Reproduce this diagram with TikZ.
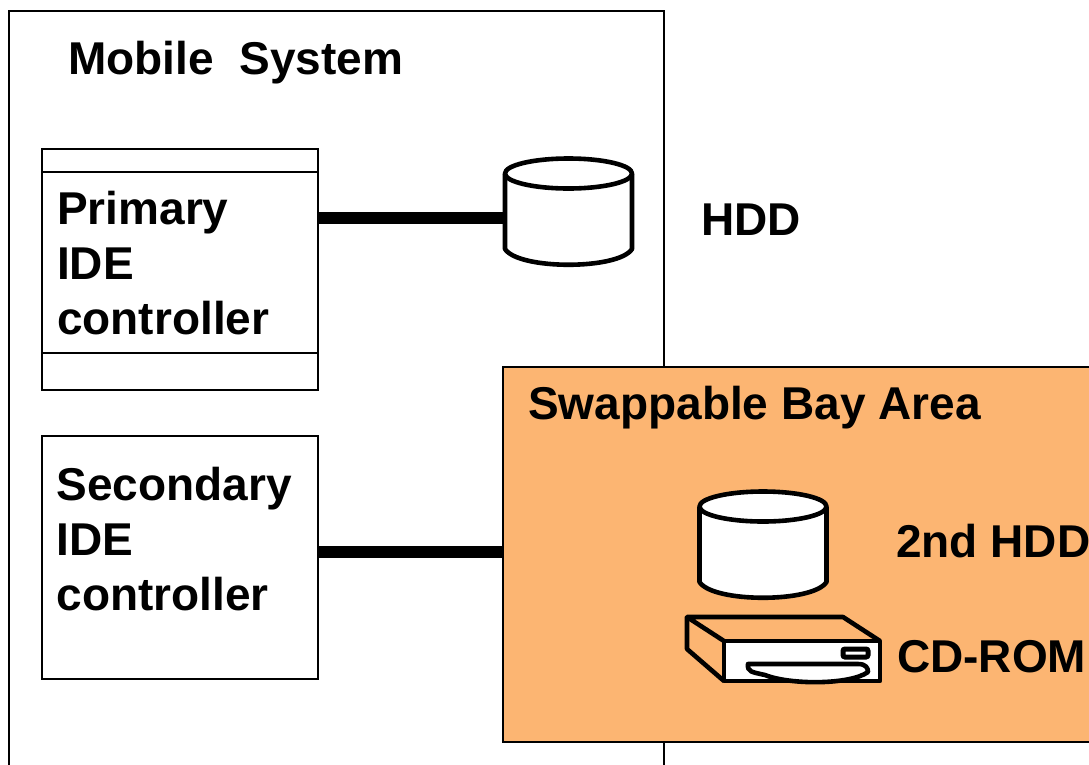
\documentclass[tikz,border=0pt]{standalone}
\usepackage{fontspec}
\setmainfont{Liberation Sans}
\usetikzlibrary{positioning}
\definecolor{bayorange}{RGB}{252,181,114}
\tikzset{
	label/.style={font=\fontsize{46}{55}\selectfont\bfseries, align=left, inner sep=0pt, anchor=north west},
	ctrl/.style={draw, line width=1.6pt, fill=white, minimum width=276pt, inner sep=0pt, outer sep=0pt},
	disk/.style={minimum width=127pt, minimum height=107pt, inner sep=0pt, outer sep=0pt},
	bus/.style={line width=12pt},
	thickline/.style={line width=4.6pt, line join=round}
}
\newcommand{\diskbody}[1]{
	\begin{scope}[shift={(#1.center)}]
		\draw[thickline, fill=white] (-63.5,-38.5) -- (-63.5,37) .. controls (-50,58) and (50,58) .. (63.5,37) -- (63.5,-38.5);
		\draw[thickline, fill=white] (0,-38.5) ellipse (63.5 and 15);
	\end{scope}
}
\begin{document}
\begin{tikzpicture}[x=1pt,y=-1pt]
	\useasboundingbox (0,0) rectangle (1089,764);
	\node[draw, line width=1.6pt, minimum width=655pt, minimum height=770pt, anchor=north west, inner sep=0pt, outer sep=0pt] (mobile) at (9,11) {};
	\node[label] (mobileT) at (68,41) {Mobile\ \ System};

	\node[ctrl, minimum height=241pt, anchor=north west] (primary) at (42,149) {};
	\draw[line width=1.6pt] (42,172) -- (318,172);
	\draw[line width=1.6pt] (42,353) -- (318,353);
	\node[label] (primaryT) at (57,191) {Primary\\IDE\\controller};

	\node[ctrl, minimum height=243pt, below=46pt of primary] (secondary) {};
	\node[label] (secondaryT) at (56.5,467) {Secondary\\IDE\\controller};

	\node[disk] (hdd) at (568.5,212) {};
	\diskbody{hdd}
	\node[label, anchor=west] (hddT) at (701,220) {HDD};

	\node[draw, line width=1.6pt, fill=bayorange, minimum width=600pt, minimum height=375pt, anchor=north west, inner sep=0pt, outer sep=0pt] (bay) at (503,367) {};
	\node[label] (bayT) at (528,386) {Swappable Bay Area};

	\node[disk] (hdd2) at (763,545) {};
	\diskbody{hdd2}
	\node[label, anchor=west] (hdd2T) at (896,541) {2nd HDD};
	\node[label, anchor=west] (cdromT) at (897,657) {CD-ROM};

	\coordinate (busA) at (400,217.5);
	\coordinate (busB) at (400,551.5);
	\draw[bus] (primary.east |- busA) -- (hdd.west |- busA);
	\draw[bus] (secondary.east |- busB) -- (bay.west |- busB);

	% CD-ROM drive
	\draw[thickline] (724,641) -- (687,617) -- (843,617) -- (880,641);
	\draw[thickline] (687,617) -- (687,649) -- (724,681);
	\draw[thickline, fill=white] (724,641) rectangle (880,681);
	\draw[line width=5pt, rounded corners=2pt, fill=white] (843,649) rectangle (868,657);
	\draw[thickline, fill=white] (748,664) -- (858,664) .. controls (866,664) and (868,668) .. (868,672) .. controls (850,685) and (790,685) .. (765,675) .. controls (752,672) and (747,672) .. cycle;
\end{tikzpicture}
\end{document}
